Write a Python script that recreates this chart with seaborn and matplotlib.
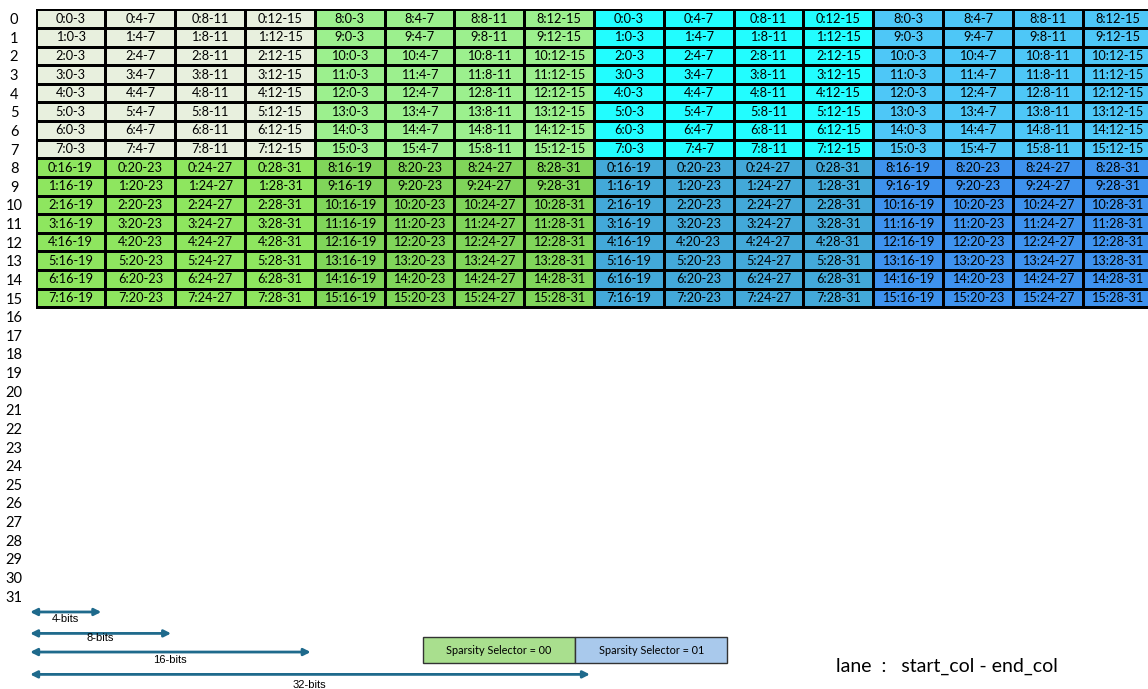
import matplotlib
matplotlib.use("Agg")
import matplotlib.pyplot as plt
import numpy as np
import pandas as pd
import seaborn as sns
from matplotlib.colors import ListedColormap
from matplotlib.patches import Rectangle

# data
row_labels = [str(i) for i in range(32)]
lane_ids = [0, 1, 2, 3, 4, 5, 6, 7, 8, 9, 10, 11, 12, 13, 14, 15]
col_ranges = ["0-3", "4-7", "8-11", "12-15", "16-19", "20-23", "24-27", "28-31"]
block_colors = ["#e8f0de", "#9cf08e", "#22fdff", "#4ec7f7",
                "#8ee65f", "#80d55a", "#43a9d9", "#3e92ee"]
bit_widths = [4, 8, 16, 32]
selector_names = ["Sparsity Selector = 00", "Sparsity Selector = 01"]
selector_colors = ["#a9df8e", "#a9c9ec"]
key_text = "lane  :   start_col - end_col"

narrow = ["Lato", "DejaVu Sans"]

# build the cell table (16 filled rows)
groups = np.zeros((16, 16))
labels = np.full((16, 16), "", dtype=object)
for r in range(16):
    for c in range(16):
        br, bc = r // 8, c // 4
        lane = lane_ids[r % 8 + 8 * (bc % 2)]
        groups[r, c] = br * 4 + bc
        labels[r, c] = f"{lane}:{col_ranges[c % 4 + 4 * br]}"
df = pd.DataFrame(groups, index=row_labels[:16])

fig = plt.figure(figsize=(11.48, 6.89), dpi=100)
W, H = 1148, 689
x0, cw = 35.7, 69.8
y0, rh = 9.3, 18.63
ax = fig.add_axes([x0 / W, 1 - (y0 + 32 * rh) / H, 16 * cw / W, 32 * rh / H])

sns.heatmap(df, cmap=ListedColormap(block_colors),
            vmin=-0.5, vmax=7.5, annot=labels, fmt="", cbar=False,
            linewidths=0.75, linecolor="black", xticklabels=False,
            yticklabels=False, ax=ax,
            annot_kws={"fontsize": 9.2, "color": "black", "family": narrow})
ax.set_ylim(len(row_labels), 0)
ax.set_yticks(np.arange(len(row_labels)) + 0.5)
ax.set_yticklabels(row_labels, rotation=0, ha="center", fontsize=10.5,
                   family=narrow)
ax.tick_params(axis="y", length=0, pad=15.6)

# bit width arrows
arrow_y = [32.35, 33.5, 34.5, 35.7]
text_y = [32.75, 33.75, 34.95, 36.25]
for bits, ay, ty in zip(bit_widths, arrow_y, text_y):
    end = bits / 4 - 0.06
    ax.annotate("", xy=(end, ay), xytext=(-0.08, ay), xycoords="data",
                arrowprops=dict(arrowstyle="<|-|>", color="#1f6a8c", lw=2,
                                mutation_scale=10, shrinkA=0, shrinkB=0),
                annotation_clip=False)
    ax.text((end - 0.1) / 2, ty, f"{bits}-bits", ha="center", va="center",
            fontsize=8, family="Liberation Sans", clip_on=False)

# selector legend
for i, (name, col) in enumerate(zip(selector_names, selector_colors)):
    bx = 5.55 + i * 2.18
    ax.add_patch(Rectangle((bx, 33.7), 2.18, 1.4, facecolor=col,
                           edgecolor="#333333", lw=1, clip_on=False))
    ax.text(bx + 1.09, 34.4, name, ha="center", va="center", fontsize=7.8,
            family=narrow, clip_on=False)

ax.text(13.05, 35.25, key_text, ha="center", va="center", fontsize=14,
        family=narrow, clip_on=False)

fig.savefig("out.png", dpi=100)
